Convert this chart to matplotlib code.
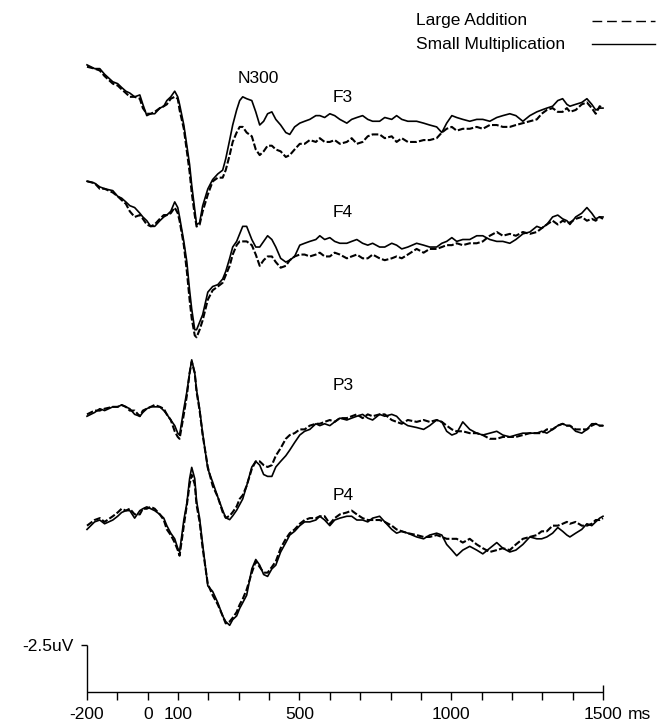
import matplotlib
matplotlib.use('Agg')
import matplotlib.pyplot as plt
from matplotlib.lines import Line2D

plt.rcParams['font.family'] = ['Liberation Sans', 'DejaVu Sans']

# ---------------- data (time in ms, amplitude in uV, negative plotted up) ----------------
TIME_MS = [-200, -175, -158, -142, -115, -99, -86, -72, -59, -43,
           -26, -16, -3, 10, 23, 40, 53, 63, 76, 89,
           99, 105, 119, 129, 138, 145, 155, 161, 171, 181,
           198, 214, 231, 247, 257, 270, 280, 293, 303, 313,
           326, 343, 356, 369, 382, 395, 409, 422, 438, 455,
           468, 484, 501, 517, 534, 554, 567, 583, 600, 616,
           633, 656, 672, 689, 708, 725, 741, 764, 781, 804,
           820, 837, 857, 886, 909, 929, 952, 969, 985, 1002,
           1018, 1038, 1061, 1084, 1104, 1127, 1150, 1170, 1193, 1213,
           1236, 1259, 1282, 1298, 1315, 1334, 1351, 1367, 1381, 1391,
           1410, 1430, 1447, 1463, 1476, 1489, 1500]

F3_SMALL_MULT = [-2.4, -2.2, -2.2, -1.9, -1.5, -1.4, -1.2, -1.0, -0.9, -0.7,
                 -0.8, -0.3, 0.3, 0.2, 0.2, -0.1, -0.2, -0.5, -0.7, -1.0,
                 -0.7, -0.3, 0.8, 1.9, 2.9, 4.0, 5.3, 6.1, 6.0, 5.1,
                 4.2, 3.7, 3.4, 3.2, 2.6, 1.6, 0.8, 0.0, -0.5, -0.7,
                 -0.6, -0.5, 0.1, 0.8, 0.6, 0.2, 0.1, 0.5, 0.8, 1.2,
                 1.3, 0.9, 0.7, 0.6, 0.5, 0.3, 0.3, 0.4, 0.2, 0.3,
                 0.5, 0.7, 0.5, 0.4, 0.3, 0.5, 0.6, 0.6, 0.4, 0.5,
                 0.3, 0.5, 0.6, 0.6, 0.7, 0.8, 0.9, 1.2, 0.7, 0.3,
                 0.4, 0.5, 0.6, 0.5, 0.5, 0.6, 0.4, 0.3, 0.2, 0.3,
                 0.6, 0.3, 0.1, 0.0, -0.1, -0.2, -0.5, -0.6, -0.3, -0.2,
                 -0.3, -0.4, -0.6, -0.3, 0.0, -0.1, -0.1]
F3_LARGE_ADD = [-2.3, -2.2, -2.1, -1.8, -1.4, -1.3, -1.1, -0.9, -0.7, -0.7,
                -0.6, -0.1, 0.2, 0.2, 0.1, -0.1, -0.2, -0.3, -0.6, -0.7,
                -0.6, 0.0, 1.0, 2.2, 3.3, 4.4, 5.6, 6.2, 6.1, 5.4,
                4.5, 3.8, 3.6, 3.6, 3.2, 2.4, 1.7, 1.2, 0.9, 0.9,
                1.2, 1.4, 2.1, 2.4, 2.2, 1.9, 1.9, 2.1, 2.2, 2.5,
                2.4, 2.1, 1.8, 1.8, 1.6, 1.7, 1.5, 1.7, 1.7, 1.6,
                1.8, 1.7, 1.5, 1.8, 1.7, 1.4, 1.3, 1.3, 1.5, 1.4,
                1.7, 1.5, 1.7, 1.7, 1.6, 1.6, 1.5, 1.2, 1.0, 0.9,
                1.1, 1.0, 1.0, 0.9, 1.0, 0.8, 0.8, 0.9, 0.9, 0.8,
                0.7, 0.6, 0.5, 0.2, 0.0, -0.1, 0.1, 0.1, -0.1, 0.1,
                0.0, -0.3, -0.4, -0.1, 0.2, -0.2, -0.1]

F4_SMALL_MULT = [-2.6, -2.5, -2.3, -2.2, -2.1, -1.8, -1.7, -1.5, -1.3, -1.2,
                 -0.9, -0.7, -0.5, -0.2, -0.2, -0.5, -0.7, -0.8, -1.0, -1.5,
                 -1.2, -0.7, 0.6, 1.7, 3.2, 4.2, 5.3, 5.3, 4.9, 4.5,
                 3.3, 3.0, 2.9, 2.6, 2.2, 1.5, 0.9, 0.6, 0.2, -0.2,
                 -0.2, 0.5, 0.9, 0.9, 0.6, 0.3, 0.5, 0.9, 1.5, 1.7,
                 1.6, 1.4, 0.8, 0.7, 0.6, 0.5, 0.3, 0.5, 0.4, 0.6,
                 0.7, 0.7, 0.6, 0.5, 0.7, 0.8, 0.7, 0.9, 0.9, 0.7,
                 0.8, 1.0, 0.9, 0.7, 0.8, 0.9, 0.9, 0.7, 0.6, 0.4,
                 0.6, 0.5, 0.5, 0.3, 0.3, 0.5, 0.6, 0.6, 0.7, 0.5,
                 0.2, 0.1, -0.2, -0.1, -0.3, -0.7, -0.8, -0.6, -0.5, -0.3,
                 -0.7, -0.9, -1.2, -0.9, -0.6, -0.7, -0.7]
F4_LARGE_ADD = [-2.6, -2.5, -2.2, -2.2, -2.0, -1.8, -1.6, -1.4, -1.0, -0.7,
                -0.8, -0.6, -0.3, -0.2, -0.3, -0.6, -0.8, -0.8, -0.9, -1.2,
                -0.9, -0.5, 0.8, 2.2, 3.7, 4.7, 5.6, 5.7, 5.3, 4.8,
                3.7, 3.2, 3.0, 2.8, 2.4, 1.9, 1.3, 0.8, 0.6, 0.6,
                0.6, 0.8, 1.3, 1.9, 1.6, 1.4, 1.4, 1.7, 2.0, 1.9,
                1.6, 1.4, 1.3, 1.3, 1.4, 1.3, 1.2, 1.4, 1.4, 1.2,
                1.3, 1.5, 1.4, 1.3, 1.5, 1.5, 1.3, 1.5, 1.6, 1.5,
                1.4, 1.5, 1.3, 1.0, 1.2, 1.0, 1.0, 0.9, 0.8, 0.8,
                0.7, 0.8, 0.7, 0.7, 0.6, 0.3, 0.1, 0.3, 0.2, 0.3,
                0.1, 0.2, 0.1, -0.1, -0.3, -0.5, -0.3, -0.5, -0.4, -0.4,
                -0.6, -0.7, -0.5, -0.6, -0.5, -0.7, -0.6]

P3_SMALL_MULT = [-0.2, -0.4, -0.6, -0.5, -0.7, -0.7, -0.8, -0.7, -0.6, -0.3,
                 -0.2, -0.4, -0.6, -0.7, -0.7, -0.7, -0.5, -0.3, 0.0, 0.3,
                 0.7, 0.8, -0.6, -1.5, -2.5, -3.2, -2.5, -1.6, -0.6, 0.7,
                 2.6, 3.3, 4.1, 4.8, 5.2, 5.3, 5.1, 4.8, 4.5, 4.2,
                 3.5, 2.5, 2.2, 2.4, 2.9, 3.0, 3.0, 2.5, 2.2, 1.9,
                 1.6, 1.2, 0.8, 0.6, 0.5, 0.2, 0.3, 0.2, 0.3, 0.1,
                 -0.1, 0.0, -0.1, -0.2, -0.3, -0.1, 0.0, -0.3, -0.2, -0.3,
                 -0.2, 0.1, 0.3, 0.4, 0.5, 0.3, 0.0, 0.1, 0.6, 0.8,
                 0.7, 0.1, 0.5, 0.7, 0.8, 0.7, 0.6, 0.8, 0.9, 0.8,
                 0.7, 0.7, 0.7, 0.6, 0.7, 0.5, 0.3, 0.2, 0.3, 0.3,
                 0.6, 0.7, 0.5, 0.2, 0.2, 0.3, 0.3]
P3_LARGE_ADD = [-0.3, -0.5, -0.5, -0.6, -0.7, -0.7, -0.8, -0.7, -0.5, -0.5,
                -0.2, -0.5, -0.6, -0.7, -0.8, -0.7, -0.6, -0.3, 0.0, 0.6,
                0.9, 1.0, -0.3, -1.3, -2.5, -3.1, -2.5, -1.5, -0.5, 0.8,
                2.5, 3.5, 4.1, 4.9, 5.2, 5.1, 4.9, 4.6, 4.2, 4.0,
                3.5, 2.6, 2.2, 2.2, 2.4, 2.5, 2.4, 1.9, 1.5, 1.0,
                0.8, 0.7, 0.5, 0.5, 0.3, 0.2, 0.2, 0.1, 0.0, 0.1,
                -0.1, -0.1, -0.2, -0.3, -0.1, -0.3, -0.2, -0.3, -0.3, 0.0,
                0.1, 0.2, 0.0, 0.1, 0.0, 0.1, 0.0, 0.1, 0.3, 0.5,
                0.6, 0.6, 0.7, 0.7, 0.8, 1.0, 1.0, 0.9, 0.9, 0.9,
                0.8, 0.7, 0.7, 0.7, 0.5, 0.5, 0.3, 0.2, 0.3, 0.3,
                0.5, 0.5, 0.5, 0.3, 0.2, 0.3, 0.3]

P4_SMALL_MULT = [0.5, 0.1, 0.0, 0.2, 0.0, -0.2, -0.4, -0.5, -0.5, -0.1,
                 -0.5, -0.6, -0.7, -0.6, -0.5, -0.3, -0.1, 0.3, 0.7, 1.0,
                 1.5, 1.7, 0.0, -0.9, -2.2, -2.8, -2.2, -1.0, -0.1, 1.3,
                 3.5, 3.8, 4.4, 5.1, 5.4, 5.6, 5.3, 5.1, 4.7, 4.4,
                 4.0, 2.6, 2.1, 2.4, 2.9, 3.0, 2.6, 2.4, 1.7, 1.2,
                 0.8, 0.6, 0.3, 0.1, 0.1, 0.0, -0.2, 0.0, 0.3, 0.0,
                 -0.1, -0.2, -0.2, 0.0, 0.0, 0.1, -0.1, -0.2, 0.1, 0.5,
                 0.7, 0.6, 0.7, 0.9, 1.0, 0.8, 0.7, 0.8, 1.3, 1.6,
                 1.9, 1.6, 1.4, 1.6, 1.8, 1.5, 1.2, 1.5, 1.7, 1.6,
                 1.3, 0.9, 1.0, 1.0, 0.9, 0.7, 0.4, 0.6, 0.8, 0.9,
                 0.7, 0.5, 0.2, 0.3, 0.1, -0.1, -0.2]
P4_LARGE_ADD = [0.3, 0.0, -0.1, 0.1, -0.2, -0.4, -0.6, -0.5, -0.6, -0.3,
                -0.3, -0.6, -0.6, -0.7, -0.6, -0.3, 0.0, 0.5, 0.8, 1.2,
                1.6, 1.9, 0.3, -0.8, -1.9, -2.4, -1.9, -0.8, 0.1, 1.5,
                3.4, 4.0, 4.5, 5.1, 5.5, 5.4, 5.2, 4.9, 4.5, 4.2,
                3.7, 2.8, 2.2, 2.5, 2.8, 2.8, 2.5, 2.2, 1.5, 1.0,
                0.7, 0.5, 0.2, 0.0, -0.1, -0.1, -0.2, -0.2, 0.2, -0.1,
                -0.3, -0.4, -0.5, -0.3, -0.1, 0.0, 0.0, 0.0, 0.1, 0.3,
                0.5, 0.6, 0.7, 0.8, 0.9, 0.9, 0.8, 0.9, 1.0, 1.0,
                1.0, 1.2, 1.0, 1.3, 1.5, 1.7, 1.6, 1.5, 1.6, 1.3,
                1.0, 0.9, 0.8, 0.6, 0.6, 0.3, 0.3, 0.2, 0.1, 0.2,
                0.1, 0.3, 0.3, 0.2, 0.0, 0.0, -0.1]

CHANNELS = ['F3', 'F4', 'P3', 'P4']
SMALL_MULT = [F3_SMALL_MULT, F4_SMALL_MULT, P3_SMALL_MULT, P4_SMALL_MULT]
LARGE_ADD = [F3_LARGE_ADD, F4_LARGE_ADD, P3_LARGE_ADD, P4_LARGE_ADD]
LEGEND_LABELS = ['Large Addition', 'Small Multiplication']
TICK_VALUES = list(range(-200, 1501, 100))
TICK_LABELS = {-200: '-200', 0: '0', 100: '100', 500: '500', 1000: '1000', 1500: '1500'}
SCALE_UV = -2.5

# ---------------- layout (stacking offsets in uV, label positions) ----------------
OFFSETS = [-30.96, -24.57, -14.47, -9.15]
LABEL_POS = [(610, -31.6), (610, -25.5), (610, -16.3), (610, -10.45)]

fig = plt.figure(figsize=(6.61, 7.24), dpi=100)
ax = fig.add_axes([87 / 661, 0, 516 / 661, 1])
ax.set_xlim(-200, 1500)
ax.set_ylim(1.70, -36.81)
ax.axis('off')

FS = 12.5
for name, off, sm, la, lp in zip(CHANNELS, OFFSETS, SMALL_MULT, LARGE_ADD, LABEL_POS):
    ax.plot(TIME_MS, [off + v for v in la], color='black', lw=1.5,
            linestyle=(0, (3.2, 1.1)), clip_on=False)
    ax.plot(TIME_MS, [off + v for v in sm], color='black', lw=1.2, clip_on=False)
    ax.text(lp[0], lp[1], name, fontsize=FS, ha='left', va='center')

ax.text(366, -32.66, 'N300', fontsize=FS, ha='center', va='center')

# time axis
kw = dict(color='black', lw=1.0, clip_on=False, solid_capstyle='butt')
ax.plot([-200, 1500], [0, 0], **kw)
for t in TICK_VALUES[1:-1]:
    ax.plot([t, t], [0, 0.43], **kw)
ax.plot([1500, 1500], [-0.37, 0.43], **kw)
# amplitude scale bar
ax.plot([-200, -200], [SCALE_UV, 0.43], **kw)
ax.plot([-220, -200], [SCALE_UV, SCALE_UV], **kw)
ax.text(-245, SCALE_UV + 0.1, '-2.5uV', fontsize=FS, ha='right', va='center')

for t, lab in TICK_LABELS.items():
    ax.text(t, 1.17, lab, fontsize=FS, ha='center', va='center')
ax.annotate('ms', xy=(1500, 1.17), xytext=(17.5, 0), textcoords='offset points',
            fontsize=FS, ha='left', va='center')

# legend
fig.text(416 / 661, 1 - 21 / 724, LEGEND_LABELS[0], fontsize=FS, ha='left', va='center')
fig.text(416 / 661, 1 - 44 / 724, LEGEND_LABELS[1], fontsize=FS, ha='left', va='center')
fig.add_artist(Line2D([592 / 661, 655 / 661], [1 - 20.5 / 724, 1 - 20.5 / 724],
                      color='black', lw=1.0, linestyle=(0, (7, 3.5))))
fig.add_artist(Line2D([592 / 661, 655 / 661], [1 - 43.5 / 724, 1 - 43.5 / 724],
                      color='black', lw=1.0))

fig.savefig('out.png', dpi=100)
